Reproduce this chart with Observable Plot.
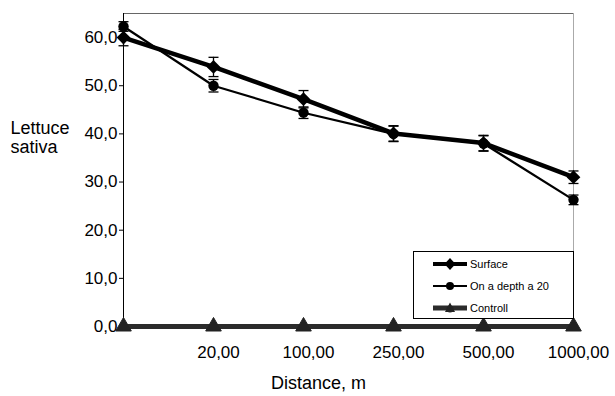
<!DOCTYPE html>
<html>
<head>
<meta charset="utf-8">
<script src="https://cdn.jsdelivr.net/npm/d3@7"></script>
<script src="https://cdn.jsdelivr.net/npm/@observablehq/plot@0.6"></script>
<style>
  html, body { margin: 0; padding: 0; background: #fff; }
  #wrap { position: relative; width: 615px; height: 396px; font-family: "Liberation Sans", Arial, sans-serif; }
  #legend { position: absolute; left: 413px; top: 251px; width: 159px; height: 66px; border: 1px solid #000; background: #fff; font-size: 11px; }
  .row { position: absolute; left: 19px; height: 14px; display: flex; align-items: center; }
  .row svg { margin-right: 3px; }
</style>
</head>
<body>
<div id="wrap"></div>
<script>
// ---- data ----
const distances = [0, 20, 100, 250, 500, 1000];
const xTickLabels = ["", "20,00", "100,00", "250,00", "500,00", "1000,00"];
const yTicks = [0, 10, 20, 30, 40, 50, 60];
const seriesNames = ["Surface", "On a depth a 20", "Controll"];
const surface = [60.0, 53.9, 47.2, 40.1, 38.1, 31.0];
const surfaceErr = [1.7, 2.0, 1.8, 1.6, 1.6, 1.3];
const depth = [62.3, 50.0, 44.4, 40.0, 38.0, 26.3];
const depthErr = [1.0, 1.3, 1.2, 1.6, 1.6, 1.0];
const controll = [0, 0, 0, 0, 0, 0];

const rows = (vals, errs) => vals.map((v, i) => ({i, v, e: errs ? errs[i] : 0}));
const sRows = rows(surface, surfaceErr);
const dRows = rows(depth, depthErr);
const cRows = rows(controll);
const errRows = [...sRows, ...dRows];
const caps = errRows.flatMap(d => [{i: d.i, y: d.v - d.e}, {i: d.i, y: d.v + d.e}]);

const capSymbol = {draw(ctx, size) { const w = Math.sqrt(size / Math.PI); ctx.moveTo(-w, 0); ctx.lineTo(w, 0); }};

const chart = Plot.plot({
  width: 615,
  height: 396,
  marginLeft: 123,
  marginRight: 42,
  marginTop: 13,
  marginBottom: 70,
  style: {fontFamily: "'Liberation Sans', Arial, sans-serif", fontSize: "17px", background: "#fff", color: "#000"},
  x: {domain: [0, 5]},
  y: {domain: [0, 65]},
  marks: [
    Plot.ruleY([65], {stroke: "#666", strokeWidth: 1}),
    Plot.ruleX([5], {stroke: "#aaa", strokeWidth: 1}),
    Plot.axisY({ticks: yTicks, tickSize: 4, tickPadding: 2, fontSize: 17, label: null,
      tickFormat: d => d.toFixed(1).replace(".", ",")}),
    Plot.axisX({ticks: [1, 2, 3, 4, 5], tickSize: 0, tickPadding: 19, fontSize: 17, label: null, dx: 5,
      tickFormat: i => xTickLabels[i]}),
    Plot.ruleX([0], {stroke: "#000", strokeWidth: 1}),
    Plot.text(["Lettuce\nsativa"], {frameAnchor: "top-left", dx: -113, dy: 106, textAnchor: "start", lineAnchor: "top", lineHeight: 1.1, fontSize: 18}),
    Plot.text(["Distance, m"], {frameAnchor: "bottom", dx: -30, dy: 50, lineAnchor: "top", fontSize: 18}),
    Plot.ruleX(errRows, {x: "i", y1: d => d.v - d.e, y2: d => d.v + d.e, stroke: "#000", strokeWidth: 1.3}),
    Plot.dot(caps, {x: "i", y: "y", symbol: capSymbol, r: 5, stroke: "#000", strokeWidth: 1.3, fill: "none"}),
    Plot.line(dRows, {x: "i", y: "v", stroke: "#000", strokeWidth: 2.2}),
    Plot.line(sRows, {x: "i", y: "v", stroke: "#000", strokeWidth: 4.5}),
    Plot.dot(dRows, {x: "i", y: "v", symbol: "circle", r: 5.2, fill: "#000"}),
    Plot.dot(sRows, {x: "i", y: "v", symbol: "diamond2", r: 6.2, fill: "#000"}),
    Plot.line(cRows, {x: "i", y: "v", stroke: "#2b2b2b", strokeWidth: 5}),
    Plot.dot(cRows, {x: "i", y: "v", symbol: "triangle", r: 5.8, fill: "#222", stroke: "#222", strokeWidth: 1, strokeLinejoin: "round"})
  ]
});
const wrap = document.getElementById("wrap");
wrap.appendChild(chart);

// legend
const swatches = [
  `<svg width="34" height="14"><line x1="0" y1="7" x2="34" y2="7" stroke="#000" stroke-width="4"/><path d="M17,1 L22.5,7 L17,13 L11.5,7Z" fill="#000"/></svg>`,
  `<svg width="34" height="14"><line x1="0" y1="7" x2="34" y2="7" stroke="#000" stroke-width="2"/><circle cx="17" cy="7" r="4" fill="#000"/></svg>`,
  `<svg width="34" height="14"><line x1="0" y1="7" x2="34" y2="7" stroke="#2b2b2b" stroke-width="5"/><path d="M17,1.5 L22,11 L12,11Z" fill="#222"/><circle cx="17" cy="8" r="3.5" fill="#222"/></svg>`
];
const legend = document.createElement("div");
legend.id = "legend";
legend.innerHTML = seriesNames.map((n, k) =>
  `<div class="row" style="top:${5 + k * 22}px">${swatches[k]}<span>${n}</span></div>`).join("");
wrap.appendChild(legend);
</script>
</body>
</html>
